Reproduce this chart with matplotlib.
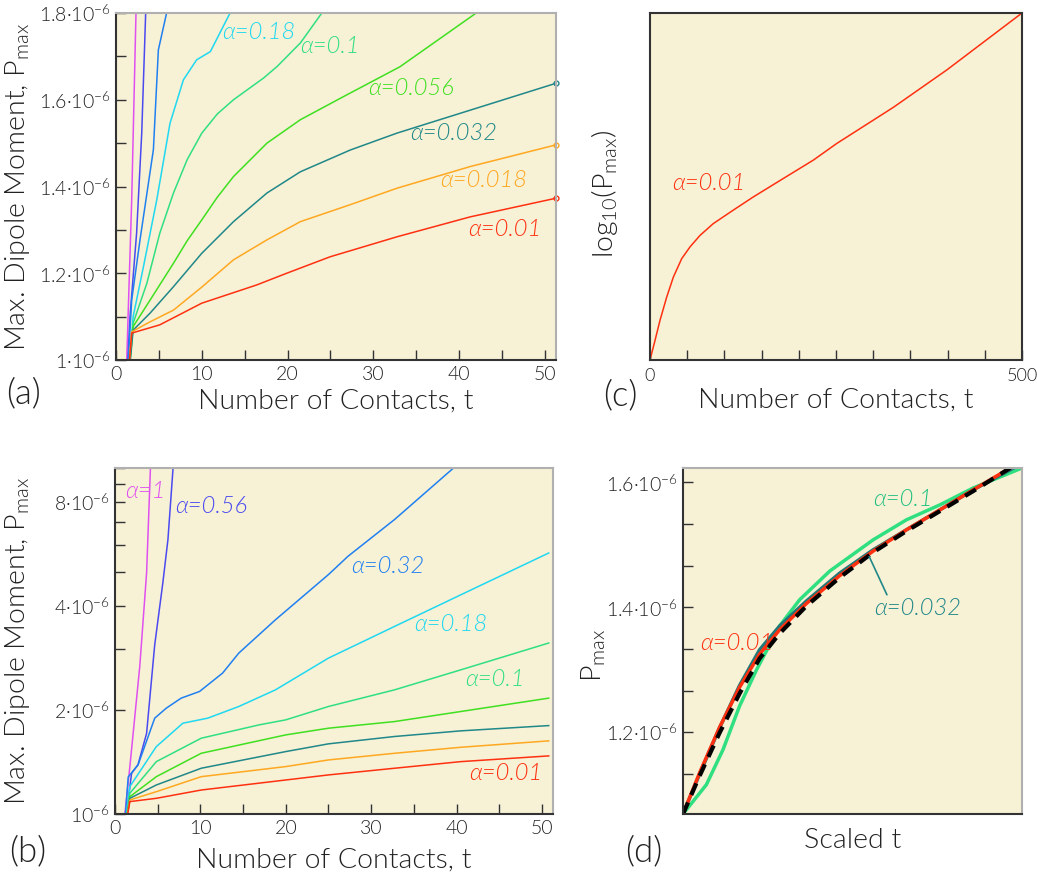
import numpy as np
import matplotlib
matplotlib.use("Agg")
import matplotlib.pyplot as plt
from matplotlib.ticker import MultipleLocator, FixedLocator, FuncFormatter, NullFormatter, NullLocator

plt.rcParams['font.family'] = ['Lato', 'DejaVu Sans']
plt.rcParams['font.weight'] = 300
plt.rcParams['mathtext.fontset'] = 'custom'
plt.rcParams['mathtext.rm'] = 'Lato:weight=300'
plt.rcParams['mathtext.it'] = 'Lato:italic:weight=300'

BG = '#f7f1d6'
DARK = '#333333'
LIGHT = '#b0b0b0'

alphas = ['1', '0.56', '0.32', '0.18', '0.1', '0.056', '0.032', '0.018', '0.01']
colors = ['#e050f0', '#4a4af0', '#2080f0', '#20d8f0', '#30e080', '#40e020',
          '#208888', '#ffa820', '#ff3010']

# panel (a): P in units of 1e-6, linear axis
a_t = {
    '1':     [1.0, 1.25, 1.83, 2.33, 2.6],
    '0.56':  [1.0, 1.63, 2.4, 3.0, 3.46, 3.8],
    '0.32':  [1.0, 1.83, 2.8, 4.36, 4.94, 5.9, 6.2],
    '0.18':  [1.0, 2.0, 3.2, 4.75, 6.3, 7.86, 9.4, 11.0, 13.3, 14.0],
    '0.1':   [1.0, 2.0, 3.6, 5.1, 6.7, 8.3, 10.0, 11.8, 13.7, 17.2, 18.8, 21.5, 24.0, 25.0],
    '0.056': [1.0, 2.0, 3.97, 6.7, 8.3, 10.0, 11.8, 13.7, 17.6, 21.5, 26.5, 33.1, 42.0, 51.3],
    '0.032': [1.0, 2.0, 3.97, 6.7, 10.0, 13.7, 17.6, 21.5, 27.3, 32.75, 41.3, 51.3],
    '0.018': [1.0, 1.83, 3.97, 6.7, 10.0, 13.7, 17.6, 21.5, 27.3, 32.75, 41.3, 51.3],
    '0.01':  [1.0, 1.83, 5.1, 10.0, 16.4, 19.9, 24.97, 32.75, 41.3, 51.3],
}
a_p = {
    '1':     [0.80, 1.0, 1.369, 1.8, 2.0],
    '0.56':  [0.85, 1.10, 1.292, 1.523, 1.8, 2.0],
    '0.32':  [0.85, 1.138, 1.277, 1.485, 1.715, 1.8, 1.9],
    '0.18':  [0.86, 1.10, 1.215, 1.369, 1.546, 1.646, 1.692, 1.711, 1.8, 1.85],
    '0.1':   [0.86, 1.085, 1.177, 1.292, 1.385, 1.462, 1.523, 1.567, 1.60, 1.65, 1.677, 1.731, 1.80, 1.83],
    '0.056': [0.86, 1.077, 1.138, 1.223, 1.275, 1.323, 1.375, 1.423, 1.50, 1.554, 1.607, 1.676, 1.80, 1.95],
    '0.032': [0.86, 1.069, 1.108, 1.169, 1.246, 1.319, 1.385, 1.434, 1.484, 1.523, 1.576, 1.638],
    '0.018': [0.86, 1.065, 1.088, 1.115, 1.168, 1.231, 1.277, 1.319, 1.358, 1.396, 1.446, 1.496],
    '0.01':  [0.86, 1.062, 1.081, 1.131, 1.173, 1.20, 1.238, 1.284, 1.330, 1.373],
}

# panel (b): P in units of 1e-6, log axis
b_t = {
    '1':     [1.0, 1.16, 1.74, 2.9, 3.7, 4.15, 4.4],
    '0.56':  [1.0, 1.55, 1.94, 2.7, 3.7, 4.65, 5.6, 6.2, 6.8, 7.0],
    '0.32':  [1.0, 1.55, 2.7, 4.65, 6.0, 7.75, 9.9, 12.6, 14.5, 18.8, 25.0, 27.3, 32.75, 39.65, 41.0],
    '0.18':  [1.0, 1.74, 4.84, 7.95, 10.85, 14.5, 18.8, 25.0, 32.75, 40.5, 50.8],
    '0.1':   [1.0, 1.74, 4.84, 10.1, 16.9, 20.0, 25.0, 32.75, 40.5, 50.8],
    '0.056': [1.0, 1.74, 4.84, 10.1, 20.0, 25.0, 32.75, 40.5, 50.8],
    '0.032': [1.0, 1.74, 4.84, 10.1, 20.0, 25.0, 32.75, 40.5, 50.8],
    '0.018': [1.0, 1.74, 4.84, 10.1, 20.0, 25.0, 32.75, 40.5, 50.8],
    '0.01':  [1.0, 1.74, 4.84, 10.1, 20.0, 25.0, 32.75, 40.5, 50.8],
}
b_p = {
    '1':     [0.85, 1.0, 1.37, 2.67, 4.97, 10.0, 12.0],
    '0.56':  [0.85, 1.10, 1.31, 1.39, 1.71, 3.08, 4.65, 6.21, 10.0, 11.0],
    '0.32':  [0.85, 1.28, 1.386, 1.892, 2.022, 2.162, 2.26, 2.554, 2.918, 3.643, 4.92, 5.56, 7.1, 10.0, 10.8],
    '0.18':  [0.85, 1.20, 1.566, 1.83, 1.892, 2.045, 2.285, 2.822, 3.485, 4.30, 5.68],
    '0.1':   [0.85, 1.148, 1.417, 1.656, 1.81, 1.871, 2.045, 2.285, 2.61, 3.12],
    '0.056': [0.85, 1.122, 1.282, 1.498, 1.693, 1.77, 1.85, 1.978, 2.162],
    '0.032': [0.85, 1.11, 1.213, 1.356, 1.515, 1.595, 1.675, 1.739, 1.801],
    '0.018': [0.85, 1.098, 1.16, 1.282, 1.371, 1.433, 1.498, 1.559, 1.627],
    '0.01':  [0.85, 1.086, 1.11, 1.173, 1.254, 1.297, 1.356, 1.417, 1.472],
}

# panel (c): alpha = 0.01 over long times, log10(Pmax)
c_t = [0, 6.7, 13.4, 22.4, 31.4, 42.6, 53.8, 67.2, 85, 112, 138.9, 170, 219.5, 251, 327, 399, 500]
c_logp = [-6.0, -5.832, -5.658, -5.457, -5.283, -5.124, -5.022, -4.923, -4.821, -4.704,
          -4.59, -4.467, -4.272, -4.128, -3.816, -3.492, -3.0]

# panel (d): scaled time collapse
d_s = [0.0, 0.049, 0.108, 0.167, 0.226, 0.285, 0.364, 0.463, 0.561, 0.659, 0.758, 0.856, 0.965]
d_fit = [1.069, 1.130, 1.199, 1.262, 1.318, 1.358, 1.402, 1.448, 1.488, 1.522, 1.554, 1.586, 1.623]
d_s01 = [0.0, 0.049, 0.108, 0.167, 0.226, 0.285, 0.364, 0.463, 0.561, 0.659, 0.758, 0.856, 0.965]
d_p01 = [1.069, 1.135, 1.208, 1.272, 1.325, 1.364, 1.406, 1.451, 1.490, 1.524, 1.556, 1.588, 1.623]
d_s032 = [0.0, 0.049, 0.108, 0.167, 0.226, 0.285, 0.364, 0.463, 0.561, 0.659, 0.758, 0.856, 0.975]
d_p032 = [1.069, 1.133, 1.207, 1.275, 1.332, 1.370, 1.410, 1.455, 1.492, 1.524, 1.556, 1.588, 1.623]
d_s1 = [0.0, 0.069, 0.118, 0.167, 0.217, 0.285, 0.344, 0.433, 0.561, 0.659, 0.758, 0.856, 1.0]
d_p1 = [1.069, 1.116, 1.172, 1.242, 1.300, 1.370, 1.412, 1.458, 1.508, 1.540, 1.564, 1.591, 1.623]

fig = plt.figure(figsize=(10.37, 8.77), dpi=100)
W, H = 1037, 877


def make_ax(x0, y0, x1, y1):
    ax = fig.add_axes([x0 / W, 1 - y1 / H, (x1 - x0) / W, (y1 - y0) / H])
    ax.set_facecolor(BG)
    ax.tick_params(direction='in', length=7, width=1, colors=DARK, labelsize=14,
                   which='both', top=False, right=False, labelcolor='#222222', pad=4)
    return ax


def style_spines(ax, light=True):
    for s in ['left', 'bottom']:
        ax.spines[s].set_color(DARK)
        ax.spines[s].set_linewidth(1.5)
    for s in ['top', 'right']:
        ax.spines[s].set_color(LIGHT if light else DARK)
        ax.spines[s].set_linewidth(1.5)


def sci_lin(v, pos):
    if abs(v * 10 - round(v * 10)) > 1e-6 or round(v * 10) % 2:
        return ''
    if abs(v - 1) < 1e-6:
        return '1·10$^{-6}$'
    return '%.1f·10$^{-6}$' % v


label_kw = dict(fontsize=20.5, color='#222222', fontweight=300)
alpha_kw = dict(fontsize=17, fontstyle='italic', fontweight=300)
panel_kw = dict(fontsize=25, va='center', ha='left', color='#222222', fontweight=300)
tens = FuncFormatter(lambda v, p: '%d' % v if int(round(v)) % 10 == 0 else '')

# ---------- (a) ----------
ax = make_ax(116, 13, 556, 360)
style_spines(ax)
for a, c in zip(alphas, colors):
    ax.plot(a_t[a], a_p[a], color=c, lw=1.1)
for a in ['0.032', '0.018', '0.01']:
    c = colors[alphas.index(a)]
    ax.plot(a_t[a][-1], a_p[a][-1], 'o', ms=3.5, mfc='none', mec=c, mew=1, clip_on=False)
ax.set_xlim(0, 51.3)
ax.set_ylim(1.0, 1.8)
ax.xaxis.set_major_locator(MultipleLocator(5))
ax.xaxis.set_major_formatter(tens)
ax.yaxis.set_major_locator(MultipleLocator(0.1))
ax.yaxis.set_major_formatter(FuncFormatter(sci_lin))
ax.set_xlabel('Number of Contacts, t', labelpad=4, **label_kw)
ax.set_ylabel('Max. Dipole Moment, P$_\\mathrm{max}$', **label_kw)
ax.yaxis.set_label_coords(-0.19, 0.5)
for txt, x, y, c in [('α=0.18', 12.4, 1.756, colors[3]), ('α=0.1', 21.5, 1.722, colors[4]),
                     ('α=0.056', 29.4, 1.625, colors[5]), ('α=0.032', 34.3, 1.523, colors[6]),
                     ('α=0.018', 37.8, 1.413, colors[7]), ('α=0.01', 41.1, 1.302, colors[8])]:
    ax.text(x, y, txt, color=c, va='center', ha='left', **alpha_kw)
fig.text(6 / W, 1 - 393 / H, '(a)', **panel_kw)

# ---------- (b) ----------
ax = make_ax(115, 468, 553, 814)
style_spines(ax)
for a, c in zip(alphas, colors):
    ax.plot(b_t[a], b_p[a], color=c, lw=1.1)
ax.set_yscale('log')
ax.set_xlim(0, 51.3)
ax.set_ylim(1.0, 10.0)
ax.xaxis.set_major_locator(MultipleLocator(5))
ax.xaxis.set_major_formatter(tens)
ax.yaxis.set_major_locator(FixedLocator([1, 2, 3, 4, 5, 6, 7, 8, 9, 10]))
ax.yaxis.set_minor_locator(NullLocator())
ax.yaxis.set_minor_formatter(NullFormatter())
b_labels = {1: '10$^{-6}$', 2: '2·10$^{-6}$', 4: '4·10$^{-6}$', 8: '8·10$^{-6}$'}
ax.yaxis.set_major_formatter(FuncFormatter(lambda v, p: b_labels.get(int(round(v)), '')))
ax.set_xlabel('Number of Contacts, t', labelpad=8, **label_kw)
ax.set_ylabel('Max. Dipole Moment, P$_\\mathrm{max}$', **label_kw)
ax.yaxis.set_label_coords(-0.19, 0.5)
for txt, x, y, c in [('α=1', 1.16, 8.55, colors[0]), ('α=0.56', 7.0, 7.74, colors[1]),
                     ('α=0.32', 27.6, 5.19, colors[2]), ('α=0.18', 35.0, 3.52, colors[3]),
                     ('α=0.1', 41.0, 2.44, colors[4]), ('α=0.01', 41.5, 1.306, colors[8])]:
    ax.text(x, y, txt, color=c, va='center', ha='left', **alpha_kw)
fig.text(9 / W, 1 - 851 / H, '(b)', **panel_kw)

# ---------- (c) ----------
ax = make_ax(650, 13, 1022, 360)
style_spines(ax, light=False)
ax.plot(c_t, c_logp, color=colors[8], lw=1.1)
ax.set_xlim(0, 500)
ax.set_ylim(-6.0, -3.0)
ax.xaxis.set_major_locator(MultipleLocator(50))
ax.xaxis.set_major_formatter(FuncFormatter(lambda v, p: '%d' % v if int(round(v)) in (0, 500) else ''))
ax.tick_params(axis='x', labelsize=13, pad=6)
ax.yaxis.set_major_locator(NullLocator())
ax.set_xlabel('Number of Contacts, t', labelpad=2, **label_kw)
ax.set_ylabel('log$_{10}$(P$_\\mathrm{max}$)', **label_kw)
ax.yaxis.set_label_coords(-0.08, 0.48)
ax.text(29.6, -4.47, 'α=0.01', color=colors[8], va='center', ha='left', **alpha_kw)
fig.text(603 / W, 1 - 395 / H, '(c)', **panel_kw)

# ---------- (d) ----------
ax = make_ax(683, 468, 1022, 814)
style_spines(ax)
ax.plot(d_s1, d_p1, color='#30e080', lw=2.5)
ax.plot(d_s032, d_p032, color='#207878', lw=2.5)
ax.plot(d_s01, d_p01, color='#ff3010', lw=2.5)
ax.plot(d_s, d_fit, color='black', lw=3, ls=(0, (3, 2)))
ax.set_xlim(0, 1)
ax.set_ylim(1.069, 1.623)
ax.xaxis.set_major_locator(NullLocator())
ax.yaxis.set_major_locator(MultipleLocator(0.2 / 3))
ax.yaxis.set_major_formatter(FuncFormatter(lambda v, p: ('%.1f·10$^{-6}$' % v) if abs(v * 5 - round(v * 5)) < 1e-6 else ''))
ax.set_xlabel('Scaled t', labelpad=10, **label_kw)
ax.set_ylabel('P$_\\mathrm{max}$', **label_kw)
ax.yaxis.set_label_coords(-0.221, 0.46)
ax.text(0.56, 1.573, 'α=0.1', color='#20c080', va='center', ha='left', **alpha_kw)
ax.text(0.565, 1.398, 'α=0.032', color='#208888', va='center', ha='left', **alpha_kw)
ax.text(0.05, 1.342, 'α=0.01', color='#ff3010', va='center', ha='left', **alpha_kw)
ax.annotate('', xy=(0.546, 1.485), xytext=(0.605, 1.416),
            arrowprops=dict(arrowstyle='-', color='#208888', lw=1.2))
fig.text(625 / W, 1 - 851 / H, '(d)', **panel_kw)

fig.savefig('out.png', dpi=100, facecolor='white')
